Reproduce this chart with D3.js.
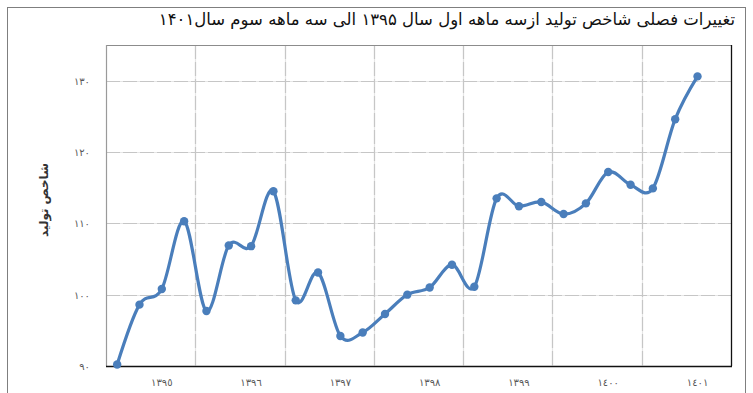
<!DOCTYPE html>
<html>
<head>
<meta charset="utf-8">
<script src="https://cdn.jsdelivr.net/npm/d3@7"></script>
<style>
  html, body { margin: 0; padding: 0; background: #fff; }
  svg { display: block; }
  text { font-family: "DejaVu Sans", sans-serif; }
</style>
</head>
<body>
<svg id="chart" width="753" height="393"></svg>
<script>
// Quarterly production index, Q1 1395 to Q3 1401
const years = ["١٣٩٥", "١٣٩٦", "١٣٩٧", "١٣٩٨", "١٣٩٩", "١٤٠٠", "١٤٠١"];
const quartersPerYear = 4;
const values = [
  90.2, 98.6, 100.8, 110.3,
  97.7, 106.9, 106.8, 114.5,
  99.2, 103.1, 94.2, 94.7,
  97.3, 100.0, 101.0, 104.2,
  101.1, 113.5, 112.4, 113.0,
  111.3, 112.8, 117.2, 115.4,
  114.9, 124.6, 130.6
];
const yTicks = [90, 100, 110, 120, 130];
const yTickLabels = ["٩٠", "١٠٠", "١١٠", "١٢٠", "١٣٠"];
const titleText = "تغییرات فصلی شاخص تولید ازسه ماهه اول سال ۱۳۹۵ الی سه ماهه سوم سال۱۴۰۱";
const yAxisTitle = "شاخص تولید";

const svg = d3.select("#chart");
const plot = { left: 106, right: 731, top: 45, bottom: 366 };

// outer chart frame
svg.append("rect")
  .attr("x", 7.5).attr("y", 7.5)
  .attr("width", 738).attr("height", 400)
  .attr("fill", "none").attr("stroke", "#7f7f7f").attr("stroke-width", 1);

const slots = d3.range(years.length * quartersPerYear);
const x = d3.scaleBand().domain(slots).range([plot.left, plot.right]).padding(0);
const cx = i => x(i) + x.bandwidth() / 2;
const y = d3.scaleLinear().domain([90, 135]).range([plot.bottom, plot.top]);

// gridlines: soft base with darker dashes on top
const grid = svg.append("g");
const hLines = yTicks.filter(t => t > 90);
const vLines = d3.range(1, years.length).map(k => x(k * quartersPerYear));
[["#e6e6e6", null], ["#c6c6c6", "14,3"]].forEach(([col, dash]) => {
  grid.selectAll(null).data(hLines).enter().append("line")
    .attr("x1", plot.left).attr("x2", plot.right)
    .attr("y1", d => Math.round(y(d)) + 0.5).attr("y2", d => Math.round(y(d)) + 0.5)
    .attr("stroke", col).attr("stroke-width", 1.2)
    .attr("stroke-dasharray", dash);
  grid.selectAll(null).data(vLines).enter().append("line")
    .attr("x1", d => Math.round(d) + 0.5).attr("x2", d => Math.round(d) + 0.5)
    .attr("y1", plot.top).attr("y2", plot.bottom)
    .attr("stroke", col).attr("stroke-width", 1.2)
    .attr("stroke-dasharray", dash);
});

// plot frame
svg.append("line").attr("x1", plot.left).attr("x2", plot.right)
  .attr("y1", plot.top + 0.5).attr("y2", plot.top + 0.5)
  .attr("stroke", "#8c8c8c").attr("stroke-width", 1.2);
svg.append("line").attr("x1", plot.left + 0.5).attr("x2", plot.left + 0.5)
  .attr("y1", plot.top).attr("y2", plot.bottom)
  .attr("stroke", "#9a9a9a").attr("stroke-width", 1.2);
svg.append("line").attr("x1", plot.right + 0.5).attr("x2", plot.right + 0.5)
  .attr("y1", plot.top).attr("y2", plot.bottom)
  .attr("stroke", "#111").attr("stroke-width", 1.3);
svg.append("line").attr("x1", plot.left).attr("x2", plot.right + 1)
  .attr("y1", plot.bottom + 0.5).attr("y2", plot.bottom + 0.5)
  .attr("stroke", "#111").attr("stroke-width", 1.5);

// y tick labels
svg.append("g").selectAll("text").data(yTicks).enter().append("text")
  .attr("x", 90).attr("y", d => y(d) + 4)
  .attr("text-anchor", "end")
  .attr("font-size", 10).attr("fill", "#595959")
  .text((d, i) => yTickLabels[i]);

// x year labels under the third quarter of each year
svg.append("g").selectAll("text").data(years).enter().append("text")
  .attr("x", (d, k) => cx(k * quartersPerYear + 2))
  .attr("y", 386)
  .attr("text-anchor", "middle")
  .attr("font-size", 10).attr("fill", "#595959")
  .text(d => d);

// axis title
svg.append("text")
  .attr("transform", "translate(48,200) rotate(-90)")
  .attr("text-anchor", "middle")
  .attr("font-size", 12).attr("font-weight", "bold").attr("fill", "#333")
  .text(yAxisTitle);

// chart title
svg.append("text")
  .attr("x", 735).attr("y", 25)
  .attr("text-anchor", "start")
  .attr("direction", "rtl")
  .attr("font-size", 16.5).attr("fill", "#111")
  .text(titleText);

// series
const line = d3.line()
  .x((d, i) => cx(i))
  .y(d => y(d))
  .curve(d3.curveCardinal.tension(0));

svg.append("path")
  .datum(values)
  .attr("d", line)
  .attr("fill", "none")
  .attr("stroke", "#4a7ebb")
  .attr("stroke-width", 3.2)
  .attr("stroke-linejoin", "round");

svg.append("g").selectAll("circle").data(values).enter().append("circle")
  .attr("cx", (d, i) => cx(i))
  .attr("cy", d => y(d))
  .attr("r", 4.2)
  .attr("fill", "#4a7ebb");
</script>
</body>
</html>
